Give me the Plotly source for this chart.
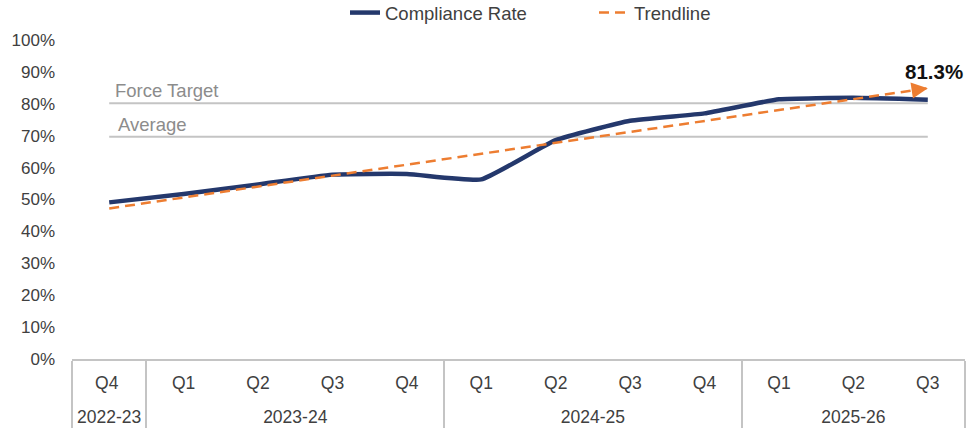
import plotly.graph_objects as go

years = ["2022-23", "2023-24", "2023-24", "2023-24", "2023-24",
         "2024-25", "2024-25", "2024-25", "2024-25",
         "2025-26", "2025-26", "2025-26"]
quarters = ["Q4", "Q1", "Q2", "Q3", "Q4", "Q1", "Q2", "Q3", "Q4", "Q1", "Q2", "Q3"]
compliance = [49.1, 51.7, 54.7, 57.8, 58.0, 56.3, 68.6, 74.7, 77.0, 81.4, 81.9, 81.3]
trend_ends = [47.2, 84.9]
force_target = 80.2
average = 69.7
y_ticks = [0, 10, 20, 30, 40, 50, 60, 70, 80, 90, 100]

NAVY = "#24386C"
ORANGE = "#ED7D31"
GREY = "#C4C4C4"
TXT = "#404040"
FONT = "Liberation Sans, Arial, sans-serif"

# tall invisible padding so the year row sits lower; a trailing space on the
# first label keeps plotly's first-seen quarter order (Q1..Q4) inside each year
PAD = "<span style='font-size:35px'>&nbsp;</span>"
q_labels = [PAD + q + PAD + (" " if i == 0 else "") for i, q in enumerate(quarters)]
x_multi = [years, q_labels]
n = len(quarters)

fig = go.Figure()

for val in (force_target, average):
    fig.add_trace(go.Scatter(x=x_multi, y=[val] * n, mode="lines",
                             line=dict(color=GREY, width=2),
                             showlegend=False, hoverinfo="skip"))

fig.add_trace(go.Scatter(x=x_multi, y=compliance, mode="lines", name="Compliance Rate",
                         line=dict(color=NAVY, width=4.5, shape="spline", smoothing=0.4)))

fig.add_trace(go.Scatter(x=[[years[0], years[-1]], [q_labels[0], q_labels[-1]]], y=trend_ends,
                         mode="lines", name="Trendline",
                         line=dict(color=ORANGE, width=2.5, dash="10px,6px")))

fig.add_annotation(x=n - 1, y=trend_ends[-1], xref="x", yref="y", ax=-16, ay=2.4,
                   axref="pixel", ayref="pixel", text="", showarrow=True,
                   arrowhead=2, arrowsize=1.3, arrowwidth=2.5, arrowcolor=ORANGE)

fig.add_annotation(x=1.0, y=90, xref="paper", yref="y", xanchor="right", yanchor="middle",
                   text=f"<b>{compliance[-1]:.1f}%</b>", showarrow=False,
                   font=dict(family=FONT, size=20.5, color="#111111"))

fig.add_annotation(x=(113 - 72) / 893, y=force_target, xref="paper", yref="y",
                   xanchor="left", yanchor="bottom", text="Force Target", showarrow=False,
                   font=dict(family=FONT, size=18.5, color="#8C8C8C"))
fig.add_annotation(x=(116 - 72) / 893, y=average, xref="paper", yref="y",
                   xanchor="left", yanchor="bottom", text="Average", showarrow=False,
                   font=dict(family=FONT, size=18.5, color="#8C8C8C"))

fig.update_layout(
    width=969, height=428,
    margin=dict(l=72, r=4, t=40, b=69, autoexpand=False),
    paper_bgcolor="white", plot_bgcolor="white",
    font=dict(family=FONT, color=TXT),
    legend=dict(orientation="h", x=(345 - 72) / 893, xanchor="left", y=1.0845, yanchor="middle",
                font=dict(family=FONT, size=18.5, color=TXT), bgcolor="rgba(0,0,0,0)",
                entrywidth=204, itemwidth=30),
    hovermode=False,
)
fig.update_xaxes(type="multicategory", range=[-0.5, n - 0.5], automargin=False,
                 showline=True, linecolor=GREY, linewidth=2,
                 showdividers=True, dividercolor=GREY, dividerwidth=2,
                 showgrid=False, ticks="", ticklabelstandoff=7,
                 tickfont=dict(family=FONT, size=17.5, color=TXT))
fig.update_yaxes(range=[0, 100], tickvals=y_ticks, ticktext=[f"{v}%" for v in y_ticks],
                 automargin=False,
                 showgrid=False, zeroline=False, showline=False, ticks="",
                 ticklabelstandoff=16,
                 tickfont=dict(family=FONT, size=17, color=TXT))

fig.write_html("out.html", config={"displayModeBar": False},
               post_script="document.body.style.margin='0';")
